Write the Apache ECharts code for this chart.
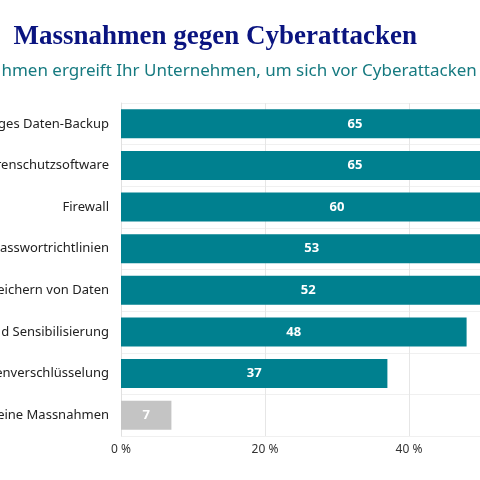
<!DOCTYPE html>
<html>
<head>
<meta charset="utf-8">
<script src="https://cdn.jsdelivr.net/npm/echarts@6/dist/echarts.min.js"></script>
<style>
html, body { margin: 0; padding: 0; width: 480px; height: 480px; overflow: hidden; background: #fff; }
#chart { position: absolute; left: -200px; top: 0; width: 1000px; height: 480px; }
</style>
</head>
<body>
<div id="chart"></div>
<script>
const categories = [
  'Regelmässiges Daten-Backup',
  'Virenschutzsoftware',
  'Firewall',
  'Passwortrichtlinien',
  'Sicheres Speichern von Daten',
  'Schulung und Sensibilisierung',
  'Datenverschlüsselung',
  'Keine Massnahmen'
];
const values = [65, 65, 60, 53, 52, 48, 37, 7];
const barColors = ['#00808f', '#00808f', '#00808f', '#00808f', '#00808f', '#00808f', '#00808f', '#c4c4c4'];
const title = 'Massnahmen gegen Cyberattacken';
const subtitle = 'Welche Massnahmen ergreift Ihr Unternehmen, um sich vor Cyberattacken zu schützen?';

const myChart = echarts.init(document.getElementById('chart'));
myChart.setOption({
  animation: false,
  graphic: [
    { type: 'text', right: 383, top: 24, style: { text: title, font: 'bold 27px "Liberation Serif"', fill: '#0a1480' } },
    { type: 'text', left: 78, top: 63, style: { text: subtitle, font: '17px "Noto Sans"', fill: '#167a80' } }
  ],
  grid: { left: 321, top: 103, width: 576, height: 333 },
  xAxis: {
    type: 'value', min: 0, max: 80, interval: 20,
    axisLabel: { formatter: '{value} %', color: '#333', fontFamily: 'Noto Sans', fontSize: 12, margin: 8 },
    splitLine: { lineStyle: { color: '#e6e6e6' } },
    axisLine: { show: false }, axisTick: { show: false }
  },
  yAxis: {
    type: 'category', data: categories, inverse: true,
    axisLabel: { color: '#222', fontFamily: 'Noto Sans', fontSize: 13, margin: 12 },
    axisLine: { lineStyle: { color: '#e0e0e0' } },
    axisTick: { lineStyle: { color: '#e0e0e0' } },
    splitLine: { show: true, lineStyle: { color: '#f0f0f0' } }
  },
  series: [{
    type: 'bar', barWidth: 29,
    data: values.map((v, i) => ({ value: v, itemStyle: { color: barColors[i] } })),
    label: { show: true, position: 'inside', color: '#fff', fontWeight: 'bold', fontFamily: 'Noto Sans', fontSize: 13 }
  }]
});
</script>
</body>
</html>
